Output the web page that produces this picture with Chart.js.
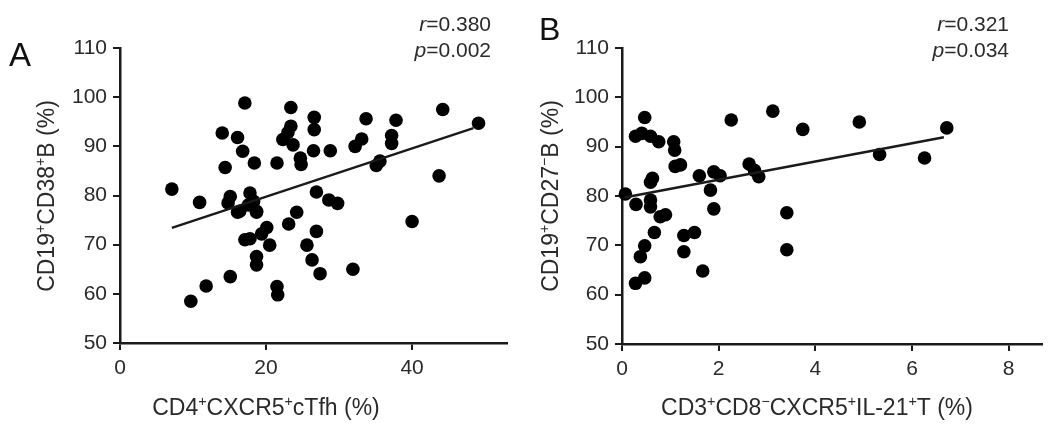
<!DOCTYPE html>
<html>
<head>
<meta charset="utf-8">
<script src="https://cdn.jsdelivr.net/npm/chart.js@4.4.0/dist/chart.umd.min.js"></script>
<style>
body { margin: 0; background: #fff; }
#wrap { position: relative; width: 1063px; height: 432px; }
canvas { position: absolute; top: 0; }
</style>
</head>
<body>
<div id="wrap">
  <canvas id="chartA" width="531" height="432" style="left:0"></canvas>
  <canvas id="chartB" width="532" height="432" style="left:531px"></canvas>
</div>
<script>
// Panel A: CD4+CXCR5+cTfh (%) vs CD19+CD38+B (%)
const tfhX = [7.1, 10.9, 9.7, 11.8, 14.0, 14.4, 15.1, 14.8, 15.1, 16.1, 16.8, 17.1, 16.4, 17.1, 17.8,
  18.4, 17.8, 17.6, 18.3, 18.7, 18.7, 18.7, 18.7, 19.4, 20.1, 20.5, 21.5, 21.5, 21.6, 23.0,
  23.7, 23.4, 23.4, 16.1, 23.1, 24.2, 24.7, 24.8, 25.6, 26.6, 26.6, 26.5, 26.9, 26.9, 26.3,
  27.4, 28.8, 28.6, 29.8, 31.9, 32.2, 33.1, 33.7, 35.1, 35.6, 37.2, 37.2, 37.8, 40.0, 43.7,
  44.2, 49.1, 22.3];
const cd38Y = [81.3, 78.6, 58.5, 61.6, 92.7, 85.7, 79.8, 78.5, 63.5, 91.8, 89.0, 98.8, 76.8, 71.0, 71.2,
  86.6, 80.5, 78.1, 78.8, 76.8, 67.6, 65.9, 76.6, 72.2, 73.5, 69.9, 86.6, 61.5, 59.8, 92.8,
  90.3, 94.1, 97.9, 76.6, 74.2, 76.6, 87.6, 86.3, 69.9, 95.9, 93.4, 89.1, 80.7, 72.7, 66.9,
  64.1, 89.1, 79.1, 78.4, 65.0, 90.0, 91.5, 95.6, 86.1, 87.0, 92.2, 90.6, 95.3, 74.7, 84.0,
  97.5, 94.7, 91.4];
const fitAX = [7.1, 48.4];
const fitAY = [73.4, 93.7];

// Panel B: CD3+CD8-CXCR5+IL-21+T (%) vs CD19+CD27-B (%)
const il21X = [0.07, 0.29, 0.28, 0.41, 0.59, 0.76, 1.07, 1.09, 0.47, 0.28, 0.47, 0.38, 0.47, 0.59, 0.59,
  0.63, 0.59, 0.67, 0.79, 0.90, 1.10, 1.21, 1.28, 1.50, 1.28, 1.60, 1.67, 1.83, 1.90, 2.03,
  1.90, 2.26, 2.63, 2.74, 2.83, 3.12, 3.41, 3.41, 3.74, 4.91, 5.33, 6.26, 6.72];
const cd27Y = [80.4, 78.3, 92.1, 92.7, 92.1, 91.0, 91.0, 89.3, 95.9, 62.3, 63.4, 67.7, 69.9, 79.2, 77.8,
  83.6, 82.8, 72.6, 75.8, 76.2, 86.0, 86.3, 72.0, 72.6, 68.7, 84.1, 64.8, 81.2, 84.9, 84.1,
  77.4, 95.4, 86.5, 85.2, 83.9, 97.2, 76.6, 69.1, 93.5, 95.0, 88.4, 87.7, 93.8];
const fitBX = [0.05, 6.66];
const fitBY = [79.7, 91.9];

const yTicks = [50, 60, 70, 80, 90, 100, 110];
const xTicksA = [0, 20, 40];
const xTicksB = [0, 2, 4, 6, 8];

const ink = '#1a1a1a';
const textColor = '#2a2a2a';
const family = '"Liberation Sans", Arial, sans-serif';

function pairs(xs, ys) {
  return xs.map((x, i) => ({ x: x, y: ys[i] }));
}

// draws text with small raised segments for the + and - marks
function drawRich(ctx, parts, x, y, size) {
  const supSize = size * 0.62;
  let total = 0;
  parts.forEach(p => {
    ctx.font = (p.sup ? supSize : size) + 'px ' + family;
    p.w = ctx.measureText(p.t).width;
    total += p.w;
  });
  let cx = x - total / 2;
  ctx.textBaseline = 'middle';
  ctx.textAlign = 'left';
  parts.forEach(p => {
    ctx.font = (p.sup ? supSize : size) + 'px ' + family;
    ctx.fillText(p.t, cx, p.sup ? y - size * 0.3 : y);
    cx += p.w;
  });
}

function drawStat(ctx, letter, value, right, baseline) {
  ctx.textBaseline = 'alphabetic';
  ctx.textAlign = 'left';
  ctx.font = '21px ' + family;
  const w2 = ctx.measureText(value).width;
  ctx.font = 'italic 21px ' + family;
  const w1 = ctx.measureText(letter).width;
  ctx.fillText(letter, right - w1 - w2, baseline);
  ctx.font = '21px ' + family;
  ctx.fillText(value, right - w2, baseline);
}

function decorPlugin(cfg) {
  return {
    id: 'decor',
    afterDraw(chart) {
      const ctx = chart.ctx;
      ctx.save();
      ctx.fillStyle = '#111';
      ctx.textBaseline = 'alphabetic';
      ctx.textAlign = 'left';
      ctx.font = cfg.letterSize + 'px ' + family;
      ctx.fillText(cfg.letter, cfg.letterX, cfg.letterY);
      ctx.fillStyle = textColor;
      drawStat(ctx, 'r', '=' + cfg.r, cfg.statRight, 31);
      drawStat(ctx, 'p', '=' + cfg.p, cfg.statRight, 57);
      drawRich(ctx, cfg.xTitle, cfg.xTitleX, 409, 23);
      ctx.translate(cfg.yTitleX, 196);
      ctx.rotate(-Math.PI / 2);
      drawRich(ctx, cfg.yTitle, 0, 0, 23);
      ctx.restore();
    }
  };
}

function makeChart(id, pts, fitX, fitY, xMax, xTicks, yWidth, xHeight, padRight, decor) {
  return new Chart(document.getElementById(id), {
    type: 'scatter',
    data: {
      datasets: [{
        data: pairs(fitX, fitY),
        showLine: true,
        pointRadius: 0,
        borderColor: ink,
        borderWidth: 2.4,
        clip: false
      }, {
        data: pts,
        pointRadius: 6.8,
        pointHoverRadius: 6.8,
        pointBorderWidth: 0,
        backgroundColor: '#000',
        borderColor: '#000',
        clip: false
      }]
    },
    options: {
      responsive: false,
      animation: false,
      layout: { padding: { top: 48, right: padRight, left: 0, bottom: 0 } },
      plugins: { legend: { display: false }, tooltip: { enabled: false } },
      scales: {
        x: {
          type: 'linear',
          min: 0,
          max: xMax,
          afterBuildTicks: axis => { axis.ticks = xTicks.map(v => ({ value: v })); },
          afterFit: scale => { scale.height = xHeight; },
          grid: { drawOnChartArea: false, drawTicks: true, tickLength: 7, color: ink, lineWidth: 2 },
          border: { display: true, color: ink, width: 2.5 },
          ticks: { color: textColor, padding: 6, font: { size: 21, family: family }, maxRotation: 0 }
        },
        y: {
          type: 'linear',
          min: 50,
          max: 110,
          afterBuildTicks: axis => { axis.ticks = yTicks.map(v => ({ value: v })); },
          afterFit: scale => { scale.width = yWidth; },
          grid: { drawOnChartArea: false, drawTicks: true, tickLength: 7, color: ink, lineWidth: 2 },
          border: { display: true, color: ink, width: 2.5 },
          ticks: { color: textColor, padding: 6, font: { size: 21, family: family } }
        }
      }
    },
    plugins: [decorPlugin(decor)]
  });
}

makeChart('chartA', pairs(tfhX, cd38Y), fitAX, fitAY, 53, xTicksA, 120, 89, 24, {
  letter: 'A', letterSize: 33, letterX: 9, letterY: 66,
  r: '0.380', p: '0.002', statRight: 491,
  xTitle: [{ t: 'CD4' }, { t: '+', sup: true }, { t: 'CXCR5' }, { t: '+', sup: true }, { t: 'cTfh (%)' }],
  xTitleX: 266,
  yTitle: [{ t: 'CD19' }, { t: '+', sup: true }, { t: 'CD38' }, { t: '+', sup: true }, { t: 'B (%)' }],
  yTitleX: 48
});

makeChart('chartB', pairs(il21X, cd27Y), fitBX, fitBY, 8.69, xTicksB, 91, 88, 21, {
  letter: 'B', letterSize: 32, letterX: 8, letterY: 40,
  r: '0.321', p: '0.034', statRight: 478,
  xTitle: [{ t: 'CD3' }, { t: '+', sup: true }, { t: 'CD8' }, { t: '\u2212', sup: true }, { t: 'CXCR5' },
    { t: '+', sup: true }, { t: 'IL-21' }, { t: '+', sup: true }, { t: 'T (%)' }],
  xTitleX: 286,
  yTitle: [{ t: 'CD19' }, { t: '+', sup: true }, { t: 'CD27' }, { t: '\u2212', sup: true }, { t: 'B (%)' }],
  yTitleX: 21
});
</script>
</body>
</html>
